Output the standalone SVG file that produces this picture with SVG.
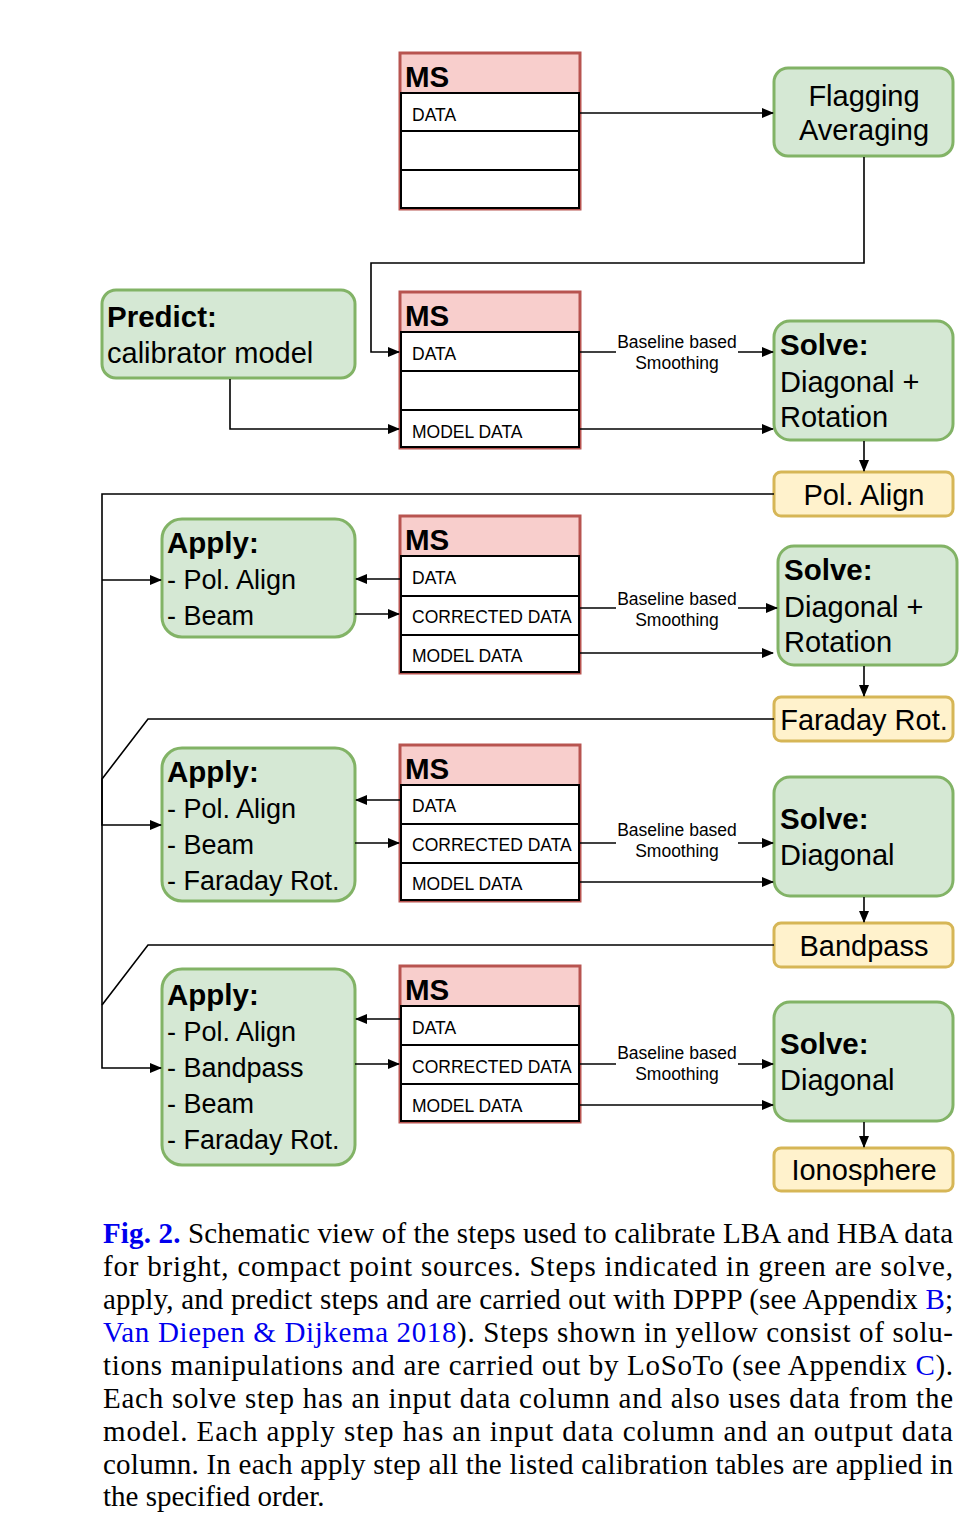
<svg xmlns="http://www.w3.org/2000/svg" width="978" height="1536" viewBox="0 0 978 1536">
<defs>
<marker id="ah" markerWidth="12" markerHeight="10" refX="11" refY="5" orient="auto" markerUnits="userSpaceOnUse"><path d="M0,0 L12,5 L0,10 Z" fill="#000"/></marker>
<style>
.g{fill:#d5e8d4;stroke:#82b366;stroke-width:3}
.y{fill:#fff2cc;stroke:#d6b656;stroke-width:3}
.hd{fill:#f8cecc;stroke:#b85450;stroke-width:3}
.row{fill:#fff;stroke:#000;stroke-width:2}
.t{font-family:"Liberation Sans",Arial,sans-serif;font-size:29px;fill:#000}
.a{font-family:"Liberation Sans",Arial,sans-serif;font-size:27px;fill:#000}
.b{font-weight:bold;font-size:29.5px}
.ms{font-family:"Liberation Sans",Arial,sans-serif;font-size:29.5px;font-weight:bold}
.r{font-family:"Liberation Sans",Arial,sans-serif;font-size:17.5px}
.lb{font-family:"Liberation Sans",Arial,sans-serif;font-size:17.5px;text-anchor:middle}
.c{font-family:"Liberation Serif","Times New Roman",serif;font-size:29px;fill:#000}
.bl{fill:#0000ee}
.ln{fill:none;stroke:#000;stroke-width:1.6}
</style>
</defs>
<rect width="978" height="1536" fill="#fff"/>

<g id="ms1">
<rect class="hd" x="400" y="53" width="180" height="156"/>
<rect class="row" x="401" y="93" width="178" height="38"/>
<rect class="row" x="401" y="131" width="178" height="39"/>
<rect class="row" x="401" y="170" width="178" height="38"/>
<text class="ms" x="405" y="87">MS</text>
<text class="r" x="412" y="121">DATA</text>
</g>
<g id="ms2">
<rect class="hd" x="400" y="292" width="180" height="156"/>
<rect class="row" x="401" y="332" width="178" height="39"/>
<rect class="row" x="401" y="371" width="178" height="39"/>
<rect class="row" x="401" y="410" width="178" height="37"/>
<text class="ms" x="405" y="326">MS</text>
<text class="r" x="412" y="360">DATA</text>
<text class="r" x="412" y="438">MODEL DATA</text>
</g>
<g id="ms3">
<rect class="hd" x="400" y="516" width="180" height="157"/>
<rect class="row" x="401" y="556" width="178" height="40"/>
<rect class="row" x="401" y="596" width="178" height="39"/>
<rect class="row" x="401" y="635" width="178" height="37"/>
<text class="ms" x="405" y="550">MS</text>
<text class="r" x="412" y="584">DATA</text>
<text class="r" x="412" y="623">CORRECTED DATA</text>
<text class="r" x="412" y="662">MODEL DATA</text>
</g>
<g id="ms4">
<rect class="hd" x="400" y="745" width="180" height="156"/>
<rect class="row" x="401" y="785" width="178" height="39"/>
<rect class="row" x="401" y="824" width="178" height="39"/>
<rect class="row" x="401" y="863" width="178" height="37"/>
<text class="ms" x="405" y="779">MS</text>
<text class="r" x="412" y="812">DATA</text>
<text class="r" x="412" y="851">CORRECTED DATA</text>
<text class="r" x="412" y="890">MODEL DATA</text>
</g>
<g id="ms5">
<rect class="hd" x="400" y="966" width="180" height="156"/>
<rect class="row" x="401" y="1006" width="178" height="39"/>
<rect class="row" x="401" y="1045" width="178" height="39"/>
<rect class="row" x="401" y="1084" width="178" height="37"/>
<text class="ms" x="405" y="1000">MS</text>
<text class="r" x="412" y="1034">DATA</text>
<text class="r" x="412" y="1073">CORRECTED DATA</text>
<text class="r" x="412" y="1112">MODEL DATA</text>
</g>

<g id="flagging">
<rect class="g" x="774" y="68" width="179" height="88" rx="14"/>
<text class="t" x="864" y="106" text-anchor="middle">Flagging</text>
<text class="t" x="864" y="140" text-anchor="middle">Averaging</text>
</g>
<g id="predict">
<rect class="g" x="102" y="290" width="253" height="88" rx="14"/>
<text class="t b" x="107" y="327">Predict:</text>
<text class="t" x="107" y="363">calibrator model</text>
</g>
<g id="solve1">
<rect class="g" x="774" y="321" width="179" height="119" rx="16"/>
<text class="t b" x="780" y="355">Solve:</text>
<text class="t" x="780" y="392">Diagonal +</text>
<text class="t" x="780" y="427">Rotation</text>
</g>
<g id="polalign">
<rect class="y" x="774" y="472" width="179" height="44" rx="7"/>
<text class="t" x="864" y="505" text-anchor="middle">Pol. Align</text>
</g>
<g id="apply1">
<rect class="g" x="162" y="519" width="193" height="118" rx="20"/>
<text class="t b" x="167" y="553">Apply:</text>
<text class="a" x="167" y="589">- Pol. Align</text>
<text class="a" x="167" y="625">- Beam</text>
</g>
<g id="solve2">
<rect class="g" x="778" y="546" width="179" height="119" rx="16"/>
<text class="t b" x="784" y="580">Solve:</text>
<text class="t" x="784" y="617">Diagonal +</text>
<text class="t" x="784" y="652">Rotation</text>
</g>
<g id="faraday">
<rect class="y" x="774" y="697" width="179" height="44" rx="7"/>
<text class="t" x="864" y="730" text-anchor="middle" font-size="28">Faraday Rot.</text>
</g>
<g id="apply2">
<rect class="g" x="162" y="748" width="193" height="153" rx="20"/>
<text class="t b" x="167" y="782">Apply:</text>
<text class="a" x="167" y="818">- Pol. Align</text>
<text class="a" x="167" y="854">- Beam</text>
<text class="a" x="167" y="890">- Faraday Rot.</text>
</g>
<g id="solve3">
<rect class="g" x="774" y="777" width="179" height="119" rx="16"/>
<text class="t b" x="780" y="829">Solve:</text>
<text class="t" x="780" y="865">Diagonal</text>
</g>
<g id="bandpass">
<rect class="y" x="774" y="923" width="179" height="44" rx="7"/>
<text class="t" x="864" y="956" text-anchor="middle">Bandpass</text>
</g>
<g id="apply3">
<rect class="g" x="162" y="969" width="193" height="196" rx="20"/>
<text class="t b" x="167" y="1005">Apply:</text>
<text class="a" x="167" y="1041">- Pol. Align</text>
<text class="a" x="167" y="1077">- Bandpass</text>
<text class="a" x="167" y="1113">- Beam</text>
<text class="a" x="167" y="1149">- Faraday Rot.</text>
</g>
<g id="solve4">
<rect class="g" x="774" y="1002" width="179" height="119" rx="16"/>
<text class="t b" x="780" y="1054">Solve:</text>
<text class="t" x="780" y="1090">Diagonal</text>
</g>
<g id="ionosphere">
<rect class="y" x="774" y="1148" width="179" height="43" rx="7"/>
<text class="t" x="864" y="1180" text-anchor="middle">Ionosphere</text>
</g>

<g id="connectors">
<path class="ln" d="M580,113 H773" marker-end="url(#ah)"/>
<path class="ln" d="M864,157 V263 H371 V352 H399" marker-end="url(#ah)"/>
<path class="ln" d="M230,379 V429 H399" marker-end="url(#ah)"/>
<path class="ln" d="M580,352 H773" marker-end="url(#ah)"/>
<path class="ln" d="M580,429 H773" marker-end="url(#ah)"/>
<path class="ln" d="M864,441 V471" marker-end="url(#ah)"/>
<path class="ln" d="M774,494 H102 V1068 H161" marker-end="url(#ah)"/>
<path class="ln" d="M102,580 H161" marker-end="url(#ah)"/>
<path class="ln" d="M400,579 H356" marker-end="url(#ah)"/>
<path class="ln" d="M355,614 H399" marker-end="url(#ah)"/>
<path class="ln" d="M580,608 H777" marker-end="url(#ah)"/>
<path class="ln" d="M580,653 H773" marker-end="url(#ah)"/>
<path class="ln" d="M864,666 V696" marker-end="url(#ah)"/>
<path class="ln" d="M774,719 H148 L102,779 V825 H161" marker-end="url(#ah)"/>
<path class="ln" d="M400,800 H356" marker-end="url(#ah)"/>
<path class="ln" d="M355,843 H399" marker-end="url(#ah)"/>
<path class="ln" d="M580,843 H773" marker-end="url(#ah)"/>
<path class="ln" d="M580,882 H773" marker-end="url(#ah)"/>
<path class="ln" d="M864,897 V922" marker-end="url(#ah)"/>
<path class="ln" d="M774,945 H148 L102,1005"/>
<path class="ln" d="M400,1019 H356" marker-end="url(#ah)"/>
<path class="ln" d="M355,1064 H399" marker-end="url(#ah)"/>
<path class="ln" d="M580,1064 H773" marker-end="url(#ah)"/>
<path class="ln" d="M580,1105 H773" marker-end="url(#ah)"/>
<path class="ln" d="M864,1122 V1147" marker-end="url(#ah)"/>
<rect x="616" y="333" width="122" height="40" fill="#fff"/>
<text class="lb" x="677" y="348">Baseline based</text>
<text class="lb" x="677" y="369">Smoothing</text>
<rect x="616" y="589" width="122" height="40" fill="#fff"/>
<text class="lb" x="677" y="605">Baseline based</text>
<text class="lb" x="677" y="626">Smoothing</text>
<rect x="616" y="822" width="122" height="40" fill="#fff"/>
<text class="lb" x="677" y="836">Baseline based</text>
<text class="lb" x="677" y="857">Smoothing</text>
<rect x="616" y="1044" width="122" height="40" fill="#fff"/>
<text class="lb" x="677" y="1059">Baseline based</text>
<text class="lb" x="677" y="1080">Smoothing</text>
</g>

<g id="caption">
<text class="c" x="103" y="1243" textLength="850" lengthAdjust="spacing"><tspan class="bl" font-weight="bold">Fig. 2.</tspan> Schematic view of the steps used to calibrate LBA and HBA data</text>
<text class="c" x="103" y="1276" textLength="850" lengthAdjust="spacing">for bright, compact point sources. Steps indicated in green are solve,</text>
<text class="c" x="103" y="1309" textLength="850" lengthAdjust="spacing">apply, and predict steps and are carried out with DPPP (see Appendix <tspan class="bl">B</tspan>;</text>
<text class="c" x="103" y="1342" textLength="850" lengthAdjust="spacing"><tspan class="bl">Van Diepen &amp; Dijkema 2018</tspan>). Steps shown in yellow consist of solu-</text>
<text class="c" x="103" y="1375" textLength="850" lengthAdjust="spacing">tions manipulations and are carried out by LoSoTo (see Appendix <tspan class="bl">C</tspan>).</text>
<text class="c" x="103" y="1408" textLength="850" lengthAdjust="spacing">Each solve step has an input data column and also uses data from the</text>
<text class="c" x="103" y="1441" textLength="850" lengthAdjust="spacing">model. Each apply step has an input data column and an output data</text>
<text class="c" x="103" y="1474" textLength="850" lengthAdjust="spacing">column. In each apply step all the listed calibration tables are applied in</text>
<text class="c" x="103" y="1506">the specified order.</text>
</g>
</svg>
